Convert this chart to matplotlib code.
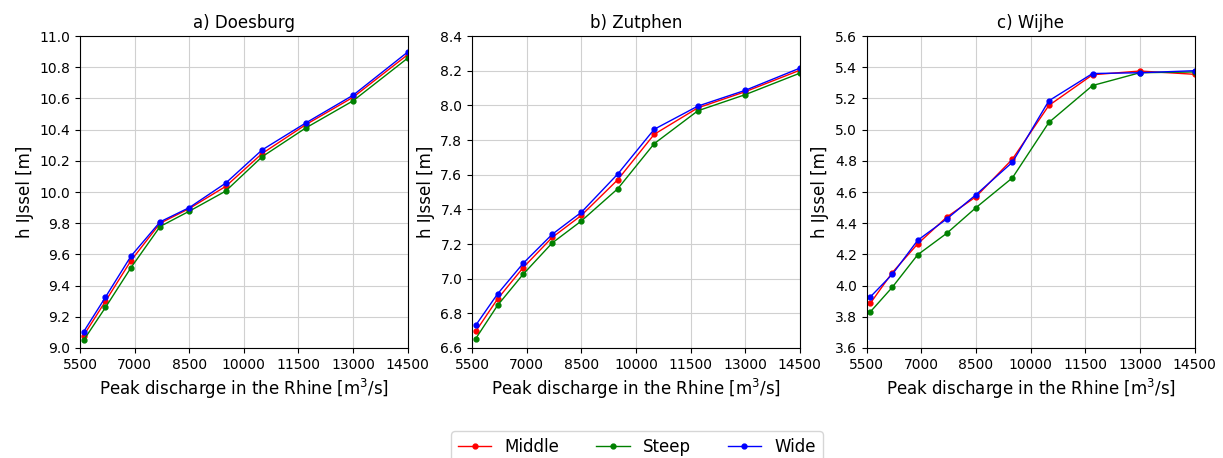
import numpy as np
import matplotlib
matplotlib.use('Agg')
import matplotlib.pyplot as plt

# Peak discharge values (m3/s)
discharge = [5600, 6200, 6900, 7700, 8500, 9500, 10500, 11700, 13000, 14500]

# Water levels at Doesburg
doesburg_middle = [9.08, 9.30, 9.56, 9.80, 9.894, 10.036, 10.247, 10.432, 10.608, 10.881]
doesburg_steep = [9.05, 9.26, 9.515, 9.779, 9.877, 10.006, 10.226, 10.411, 10.585, 10.859]
doesburg_wide = [9.104, 9.326, 9.589, 9.809, 9.90, 10.057, 10.27, 10.443, 10.621, 10.898]

# Water levels at Zutphen
zutphen_middle = [6.696, 6.883, 7.063, 7.238, 7.365, 7.571, 7.833, 7.986, 8.079, 8.203]
zutphen_steep = [6.654, 6.846, 7.025, 7.206, 7.333, 7.519, 7.779, 7.969, 8.062, 8.186]
zutphen_wide = [6.731, 6.912, 7.088, 7.256, 7.383, 7.604, 7.862, 7.996, 8.087, 8.215]

# Water levels at Wijhe
wijhe_middle = [3.887, 4.083, 4.268, 4.44, 4.57, 4.811, 5.155, 5.352, 5.376, 5.355]
wijhe_steep = [3.832, 3.989, 4.198, 4.336, 4.50, 4.691, 5.046, 5.283, 5.365, 5.37]
wijhe_wide = [3.928, 4.072, 4.291, 4.428, 4.583, 4.791, 5.185, 5.36, 5.365, 5.378]

titles = ['a) Doesburg', 'b) Zutphen', 'c) Wijhe']
ylims = [(9.0, 11.0), (6.6, 8.4), (3.6, 5.6)]
series = [
    (doesburg_middle, doesburg_steep, doesburg_wide),
    (zutphen_middle, zutphen_steep, zutphen_wide),
    (wijhe_middle, wijhe_steep, wijhe_wide),
]

fig = plt.figure(figsize=(12.23, 4.58), dpi=100)
lefts = [0.0654, 0.386, 0.7087]
axes = [fig.add_axes([l, 0.2402, 0.268, 0.681]) for l in lefts]

for ax, title, ylim, (mid, steep, wide) in zip(axes, titles, ylims, series):
    ax.plot(discharge, mid, marker='.', markersize=7, color='r', linewidth=1, label='Middle')
    ax.plot(discharge, steep, marker='.', markersize=7, color='g', linewidth=1, label='Steep')
    ax.plot(discharge, wide, marker='.', markersize=7, color='b', linewidth=1, label='Wide')
    ax.set_xlim(5500, 14500)
    ax.set_ylim(*ylim)
    ax.set_xticks(np.arange(5500, 14501, 1500))
    ax.set_yticks(np.arange(ylim[0], ylim[1] + 0.01, 0.2))
    ax.yaxis.set_major_formatter(matplotlib.ticker.FormatStrFormatter('%.1f'))
    ax.tick_params(labelsize=10)
    ax.grid(True, color='#d0d0d0')
    ax.set_title(title, fontsize=12)
    ax.set_xlabel('Peak discharge in the Rhine [m$^3$/s]', fontsize=12)
    ax.set_ylabel('h IJssel [m]', fontsize=12)

handles, labels = axes[0].get_legend_handles_labels()
fig.legend(handles, labels, loc='upper center', bbox_to_anchor=(637 / 1223, 1 - 423 / 458),
           ncol=3, fontsize=12, columnspacing=2.2, handlelength=2)

plt.savefig('out.png', dpi=100)
